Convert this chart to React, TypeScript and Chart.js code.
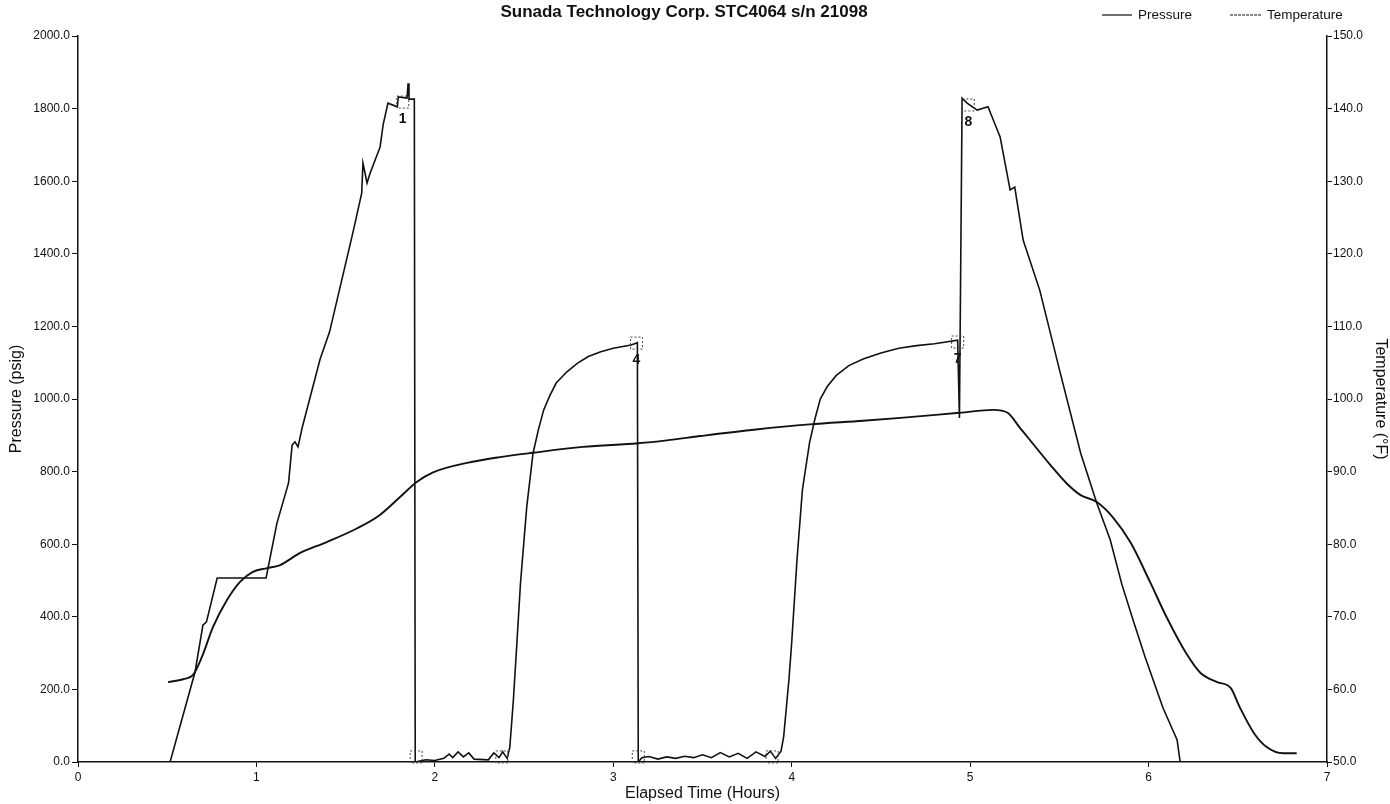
import React, { useEffect, useRef } from 'react';
import { Chart, registerables } from 'chart.js';

Chart.register(...registerables);

// Elapsed time (hours) / pressure (psig)
const pressureHours = [
  0, 0.516, 0.656, 0.7, 0.72, 0.78, 1.054, 1.115, 1.18, 1.2, 1.216, 1.233, 1.256, 1.357, 1.41,
  1.54, 1.59, 1.597, 1.62, 1.637, 1.693, 1.71, 1.737, 1.79, 1.795, 1.844, 1.85, 1.855, 1.885,
  1.89, 1.95, 2.0, 2.05, 2.08, 2.1, 2.13, 2.16, 2.19, 2.22, 2.3, 2.33, 2.36, 2.38, 2.405,
  2.42, 2.44, 2.46, 2.48, 2.515, 2.55, 2.58, 2.61, 2.645, 2.68, 2.74, 2.8, 2.86, 2.93, 3.0, 3.1, 3.135,
  3.14, 3.16, 3.2, 3.25, 3.3, 3.35, 3.4, 3.45, 3.5, 3.55, 3.6, 3.65, 3.7, 3.75, 3.8, 3.85, 3.88, 3.91,
  3.94, 3.955, 3.97, 3.985, 4.0, 4.03, 4.06, 4.1, 4.13, 4.16, 4.2, 4.25, 4.32, 4.4, 4.5, 4.6, 4.7, 4.8, 4.93,
  4.94, 4.955, 4.983, 5.04, 5.1, 5.123, 5.168, 5.224, 5.25, 5.297, 5.39, 5.505, 5.62, 5.71,
  5.785, 5.85, 5.914, 5.98, 6.08, 6.16, 6.177, 7.0,
];
const pressurePsig = [
  0, 0, 248, 377, 386, 507, 507, 658, 769, 873, 882, 868, 920, 1110, 1185,
  1457, 1567, 1650, 1595, 1622, 1694, 1755, 1815, 1805, 1832, 1829, 1870, 1826, 1826,
  0, 6, 4, 10, 22, 12, 28, 14, 25, 8, 6, 25, 12, 28, 10,
  40, 170, 330, 493, 703, 850, 915, 970, 1010, 1044, 1075, 1099, 1117, 1130, 1140, 1149, 1155,
  0, 12, 15, 8, 14, 10, 16, 12, 20, 12, 26, 14, 24, 10, 28, 15, 30, 10,
  30, 70, 150, 230, 330, 560, 750, 880, 945, 1000, 1035, 1065, 1092, 1110, 1127, 1140, 1147, 1152, 1162,
  948, 1829, 1815, 1796, 1805, 1777, 1722, 1576, 1584, 1438, 1300, 1072, 850, 713,
  612, 490, 390, 290, 150, 61, 0, 0,
];

// Elapsed time (hours) / temperature (°F)
const tempHours = [
  0.505, 0.59, 0.645, 0.695, 0.757, 0.835, 0.908, 0.98, 1.06, 1.13, 1.245, 1.395, 1.565, 1.69,
  1.805, 1.9, 1.99, 2.18, 2.365, 2.55, 2.83, 3.14, 3.3, 3.49, 3.8, 4.1, 4.4, 4.61, 4.94, 5.13,
  5.21, 5.28, 5.32, 5.45, 5.54, 5.617, 5.71, 5.8, 5.9, 6.01, 6.1, 6.21, 6.29, 6.385, 6.46, 6.51,
  6.59, 6.66, 6.755, 6.83,
];
const tempDegF = [
  61.0, 61.4, 62.0, 64.5, 68.6, 72.3, 74.8, 76.2, 76.7, 77.1, 78.8, 80.3, 82.2, 84.0,
  86.5, 88.6, 89.9, 91.2, 92.0, 92.6, 93.4, 93.9, 94.3, 94.9, 95.8, 96.5, 97.0, 97.4, 98.1, 98.5,
  98.1, 96.0, 94.8, 90.9, 88.4, 86.8, 85.8, 83.7, 80.2, 74.7, 70.0, 65.0, 62.3, 61.0, 60.2, 57.6,
  54.0, 52.1, 51.2, 51.2,
];

// numbered event markers on the pressure trace
const eventHours = [1.82, 3.13, 4.93, 4.99];
const eventPsig = [1818, 1154, 1157, 1810];
const eventLabels = ['1', '4', '7', '8'];

// small boxes sitting on the baseline
const baseBoxHours = [1.895, 2.375, 3.14, 3.89];
const baseBoxPsig = [14, 14, 14, 14];

const FONT = "'Liberation Sans', Arial, sans-serif";

const annotate = {
  id: 'annotate',
  afterDatasetsDraw(chart: Chart) {
    const { ctx, scales } = chart;
    const x = scales.x;
    const y = scales.y;
    ctx.save();
    ctx.strokeStyle = '#444';
    ctx.lineWidth = 1;
    ctx.setLineDash([2, 2]);
    const box = (h: number, p: number) => {
      const px = x.getPixelForValue(h);
      const py = y.getPixelForValue(p);
      ctx.strokeRect(px - 6, py - 6, 12, 12);
    };
    eventHours.forEach((h, i) => box(h, eventPsig[i]));
    baseBoxHours.forEach((h, i) => box(h, baseBoxPsig[i]));
    ctx.setLineDash([]);
    ctx.fillStyle = '#111';
    ctx.font = `bold 14px ${FONT}`;
    ctx.textAlign = 'center';
    ctx.textBaseline = 'middle';
    eventHours.forEach((h, i) => {
      ctx.fillText(eventLabels[i], x.getPixelForValue(h), y.getPixelForValue(eventPsig[i]) + 17);
    });
    ctx.restore();
  },
  afterDraw(chart: Chart) {
    const { ctx, width } = chart;
    ctx.save();
    ctx.fillStyle = '#111';
    ctx.textBaseline = 'middle';
    ctx.font = `bold 17px ${FONT}`;
    ctx.textAlign = 'center';
    ctx.fillText('Sunada Technology Corp. STC4064 s/n 21098', 684, 12);

    ctx.font = `13.5px ${FONT}`;
    ctx.textAlign = 'left';
    ctx.strokeStyle = '#111';
    ctx.lineWidth = 1.2;
    ctx.beginPath();
    ctx.moveTo(width - 288, 15);
    ctx.lineTo(width - 258, 15);
    ctx.stroke();
    ctx.fillText('Pressure', width - 252, 15);
    ctx.setLineDash([3, 1]);
    ctx.beginPath();
    ctx.moveTo(width - 160, 15);
    ctx.lineTo(width - 128, 15);
    ctx.stroke();
    ctx.setLineDash([]);
    ctx.fillText('Temperature', width - 123, 15);
    ctx.restore();
  },
};

const App: React.FC = () => {
  const canvasRef = useRef<HTMLCanvasElement>(null);

  useEffect(() => {
    if (!canvasRef.current) return;

    const pressurePoints = pressureHours.map((h, i) => ({ x: h, y: pressurePsig[i] }));
    const tempPoints = tempHours.map((h, i) => ({ x: h, y: tempDegF[i] }));

    const tickFont = { family: FONT, size: 12 };
    const titleFont = { family: FONT, size: 16 };

    const chart = new Chart(canvasRef.current, {
      type: 'line',
      data: {
        datasets: [
          {
            label: 'Pressure',
            data: pressurePoints,
            yAxisID: 'y',
            borderColor: '#111',
            borderWidth: 1.6,
            pointRadius: 0,
            tension: 0,
          },
          {
            label: 'Temperature',
            data: tempPoints,
            yAxisID: 'y1',
            borderColor: '#111',
            borderWidth: 1.9,
            pointRadius: 0,
            cubicInterpolationMode: 'monotone',
          },
        ],
      },
      options: {
        responsive: true,
        maintainAspectRatio: false,
        animation: false,
        layout: { padding: { top: 36, right: 0, bottom: 0, left: 0 } },
        plugins: {
          legend: { display: false },
          title: { display: false },
          tooltip: { enabled: false },
        },
        scales: {
          x: {
            type: 'linear',
            min: 0,
            max: 7,
            ticks: { stepSize: 1, color: '#111', font: tickFont, padding: 3 },
            grid: { drawOnChartArea: false, color: '#111', tickLength: 5 },
            border: { color: '#111', width: 1.5 },
            title: {
              display: true,
              text: 'Elapsed Time (Hours)',
              color: '#111',
              font: titleFont,
              padding: { top: 0, bottom: 1 },
            },
            afterFit(scale) {
              scale.height = 42;
            },
          },
          y: {
            position: 'left',
            min: 0,
            max: 2000,
            ticks: {
              stepSize: 200,
              color: '#111',
              font: tickFont,
              padding: 2,
              callback: (v) => Number(v).toFixed(1),
            },
            grid: { drawOnChartArea: false, color: '#111', tickLength: 6 },
            border: { color: '#111', width: 1.5 },
            title: {
              display: true,
              text: 'Pressure (psig)',
              color: '#111',
              font: titleFont,
              padding: { top: 7, bottom: 0 },
            },
            afterFit(scale) {
              scale.width = 78;
            },
          },
          y1: {
            position: 'right',
            min: 50,
            max: 150,
            ticks: {
              stepSize: 10,
              color: '#111',
              font: tickFont,
              padding: 1,
              callback: (v) => Number(v).toFixed(1),
            },
            grid: { drawOnChartArea: false, color: '#111', tickLength: 5 },
            border: { color: '#111', width: 1.5 },
            title: {
              display: true,
              text: 'Temperature (°F)',
              color: '#111',
              font: titleFont,
              padding: { top: 0, bottom: 0 },
            },
            afterFit(scale) {
              scale.width = 63;
            },
          },
        },
      },
      plugins: [annotate],
    });

    return () => {
      chart.destroy();
    };
  }, []);

  return (
    <div style={{ position: 'fixed', left: 0, top: 0, width: 1390, height: 804, background: '#fff' }}>
      <canvas ref={canvasRef} />
    </div>
  );
};

export default App;
